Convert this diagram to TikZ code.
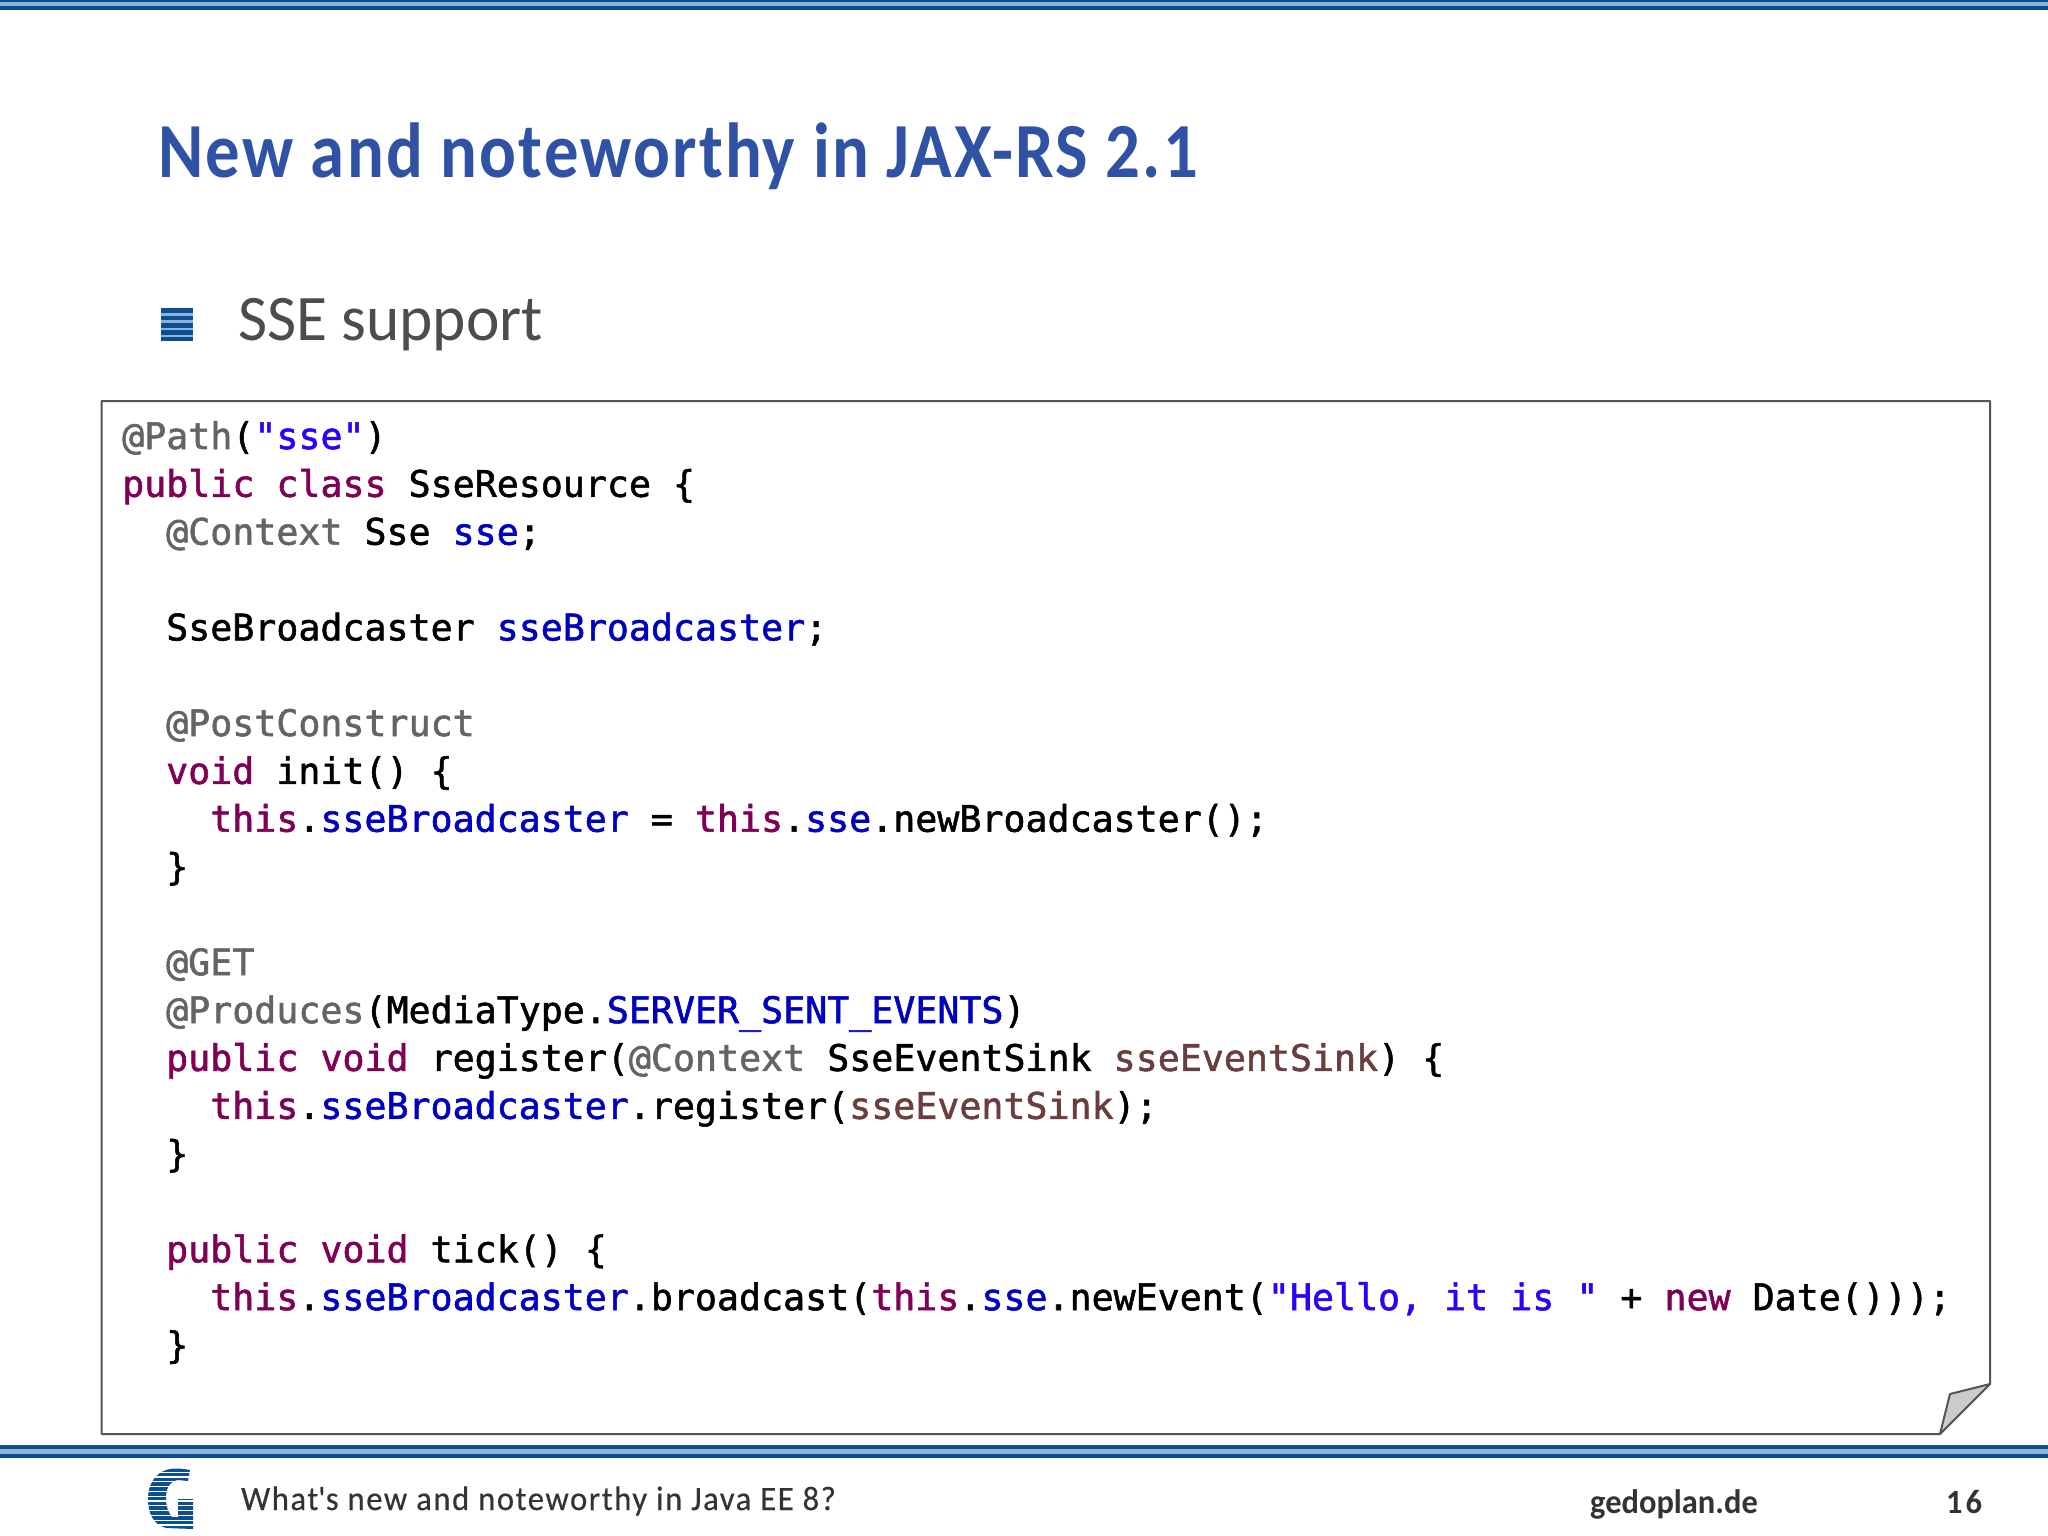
\documentclass[tikz,border=0pt]{standalone}
\usepackage{fontspec}
\setmainfont{Carlito}
\newfontfamily\codefont{DejaVu Sans Mono}[FakeBold=1.5]
\newfontfamily\titlefont{Carlito}[FakeStretch=0.88,LetterSpace=2.85]
\newfontfamily\headfont{Carlito}[FakeStretch=0.975]
\newfontfamily\footfont{Carlito}[FakeStretch=0.96,LetterSpace=4.6,FakeBold=0.4]
\newfontfamily\sitefont{Carlito}[FakeStretch=0.955]

\definecolor{bandDark}{HTML}{0B4F91}
\definecolor{bandLight}{HTML}{8FB2DC}
\definecolor{titleBlue}{HTML}{2F52A5}
\definecolor{boxGray}{HTML}{555555}
\definecolor{foldGray}{HTML}{CBCBCD}

\newcommand{\kw}[1]{\textcolor[HTML]{7F0055}{#1}}
\newcommand{\ann}[1]{\textcolor[HTML]{646464}{#1}}
\newcommand{\fld}[1]{\textcolor[HTML]{0000C0}{#1}}
\newcommand{\str}[1]{\textcolor[HTML]{2A00FF}{#1}}
\newcommand{\lvar}[1]{\textcolor[HTML]{6A3E3E}{#1}}

\tikzset{
  codeline/.style={anchor=base west,inner sep=0pt,font=\codefont\fontsize{36.6}{40}\selectfont},
  slidetext/.style={anchor=base west,inner sep=0pt}
}

\begin{document}
\begin{tikzpicture}[x=1pt,y=-1pt]

\fill[white] (0,0) rectangle (2048,1536);
\useasboundingbox (0,0) rectangle (2048,1536);

% bands
\fill[bandDark] (0,0) rectangle (2048,10);
\fill[bandLight] (0,2) rectangle (2048,6);
\fill[bandDark] (0,1445) rectangle (2048,1458);
\fill[bandLight] (0,1449) rectangle (2048,1454);

% title
\node[slidetext,text=titleBlue,font=\titlefont\bfseries\fontsize{78}{80}\selectfont] (title) at (158,178) {New and noteworthy in JAX-RS 2.1};

% bullet
\fill[bandLight] (161,308) rectangle (193,341);
\fill[bandDark] (161,308) rectangle (193,312.5);
\fill[bandDark] (161,316) rectangle (193,320);
\fill[bandDark] (161,323) rectangle (193,327.5);
\fill[bandDark] (161,330) rectangle (193,334.5);
\fill[bandDark] (161,337) rectangle (193,341);
\node[slidetext,text=black!70,font=\headfont\fontsize{65}{68}\selectfont] (support) at (238,340) {SSE support};

% code box
\draw[boxGray,line width=2pt,line join=round,fill=white] (101.7,401) -- (1990,401) -- (1990,1384) -- (1940,1434) -- (101.7,1434) -- cycle;
\draw[boxGray,line width=2pt,line join=round,fill=foldGray] (1990,1384) -- (1950,1394) -- (1940,1434) -- cycle;

% code
\node[codeline] (l1) at (122,449) {\ann{@Path}(\str{"sse"})};
\node[codeline] (l2) at (122,496.8) {\kw{public} \kw{class} SseResource \{};
\node[codeline] (l3) at (166,544.7) {\ann{@Context} Sse \fld{sse};};
\node[codeline] (l5) at (166,640.4) {SseBroadcaster \fld{sseBroadcaster};};
\node[codeline] (l7) at (166,736) {\ann{@PostConstruct}};
\node[codeline] (l8) at (166,783.9) {\kw{void} init() \{};
\node[codeline] (l9) at (210,831.7) {\kw{this}.\fld{sseBroadcaster} = \kw{this}.\fld{sse}.newBroadcaster();};
\node[codeline] (l10) at (166,879.6) {\}};
\node[codeline] (l12) at (166,975.2) {\ann{@GET}};
\node[codeline] (l13) at (166,1023.1) {\ann{@Produces}(MediaType.\fld{SERVER\_SENT\_EVENTS})};
\node[codeline] (l14) at (166,1070.9) {\kw{public} \kw{void} register(\ann{@Context} SseEventSink \lvar{sseEventSink}) \{};
\node[codeline] (l15) at (210,1118.8) {\kw{this}.\fld{sseBroadcaster}.register(\lvar{sseEventSink});};
\node[codeline] (l16) at (166,1166.6) {\}};
\node[codeline] (l18) at (166,1262.3) {\kw{public} \kw{void} tick() \{};
\node[codeline] (l19) at (210,1310.1) {\kw{this}.\fld{sseBroadcaster}.broadcast(\kw{this}.\fld{sse}.newEvent(\str{"Hello, it is "} + \kw{new} Date()));};
\node[codeline] (l20) at (166,1358) {\}};

% footer logo
\begin{scope}
\clip (190,1470) .. controls (180,1468) and (172,1468) .. (166,1470)
  .. controls (154,1474) and (148,1486) .. (148,1498)
  .. controls (148,1512) and (152,1524) .. (166,1528)
  -- (193,1529) -- (193,1499) -- (178,1499) -- (178,1517) -- (172,1517)
  .. controls (168,1512) and (166,1506) .. (166,1498)
  .. controls (166,1488) and (170,1481) .. (178,1480)
  -- (188,1481) -- cycle;
\draw[bandDark,line width=50pt,dash pattern=on 3.6pt off 1.2pt] (170,1468) -- (170,1530);
\end{scope}

% footer
\node[slidetext,text=black!80,font=\footfont\fontsize{34}{36}\selectfont] (foottext) at (241,1510) {What\textquotesingle s new and noteworthy in Java EE 8?};
\node[slidetext,text=black!80,font=\sitefont\bfseries\fontsize{34}{36}\selectfont] (site) at (1590,1513) {gedoplan.de};
\node[slidetext,text=black!80,font=\sitefont\bfseries\fontsize{34}{36}\selectfont] (page) at (1946,1513) {1\kern3pt 6};

\end{tikzpicture}
\end{document}
